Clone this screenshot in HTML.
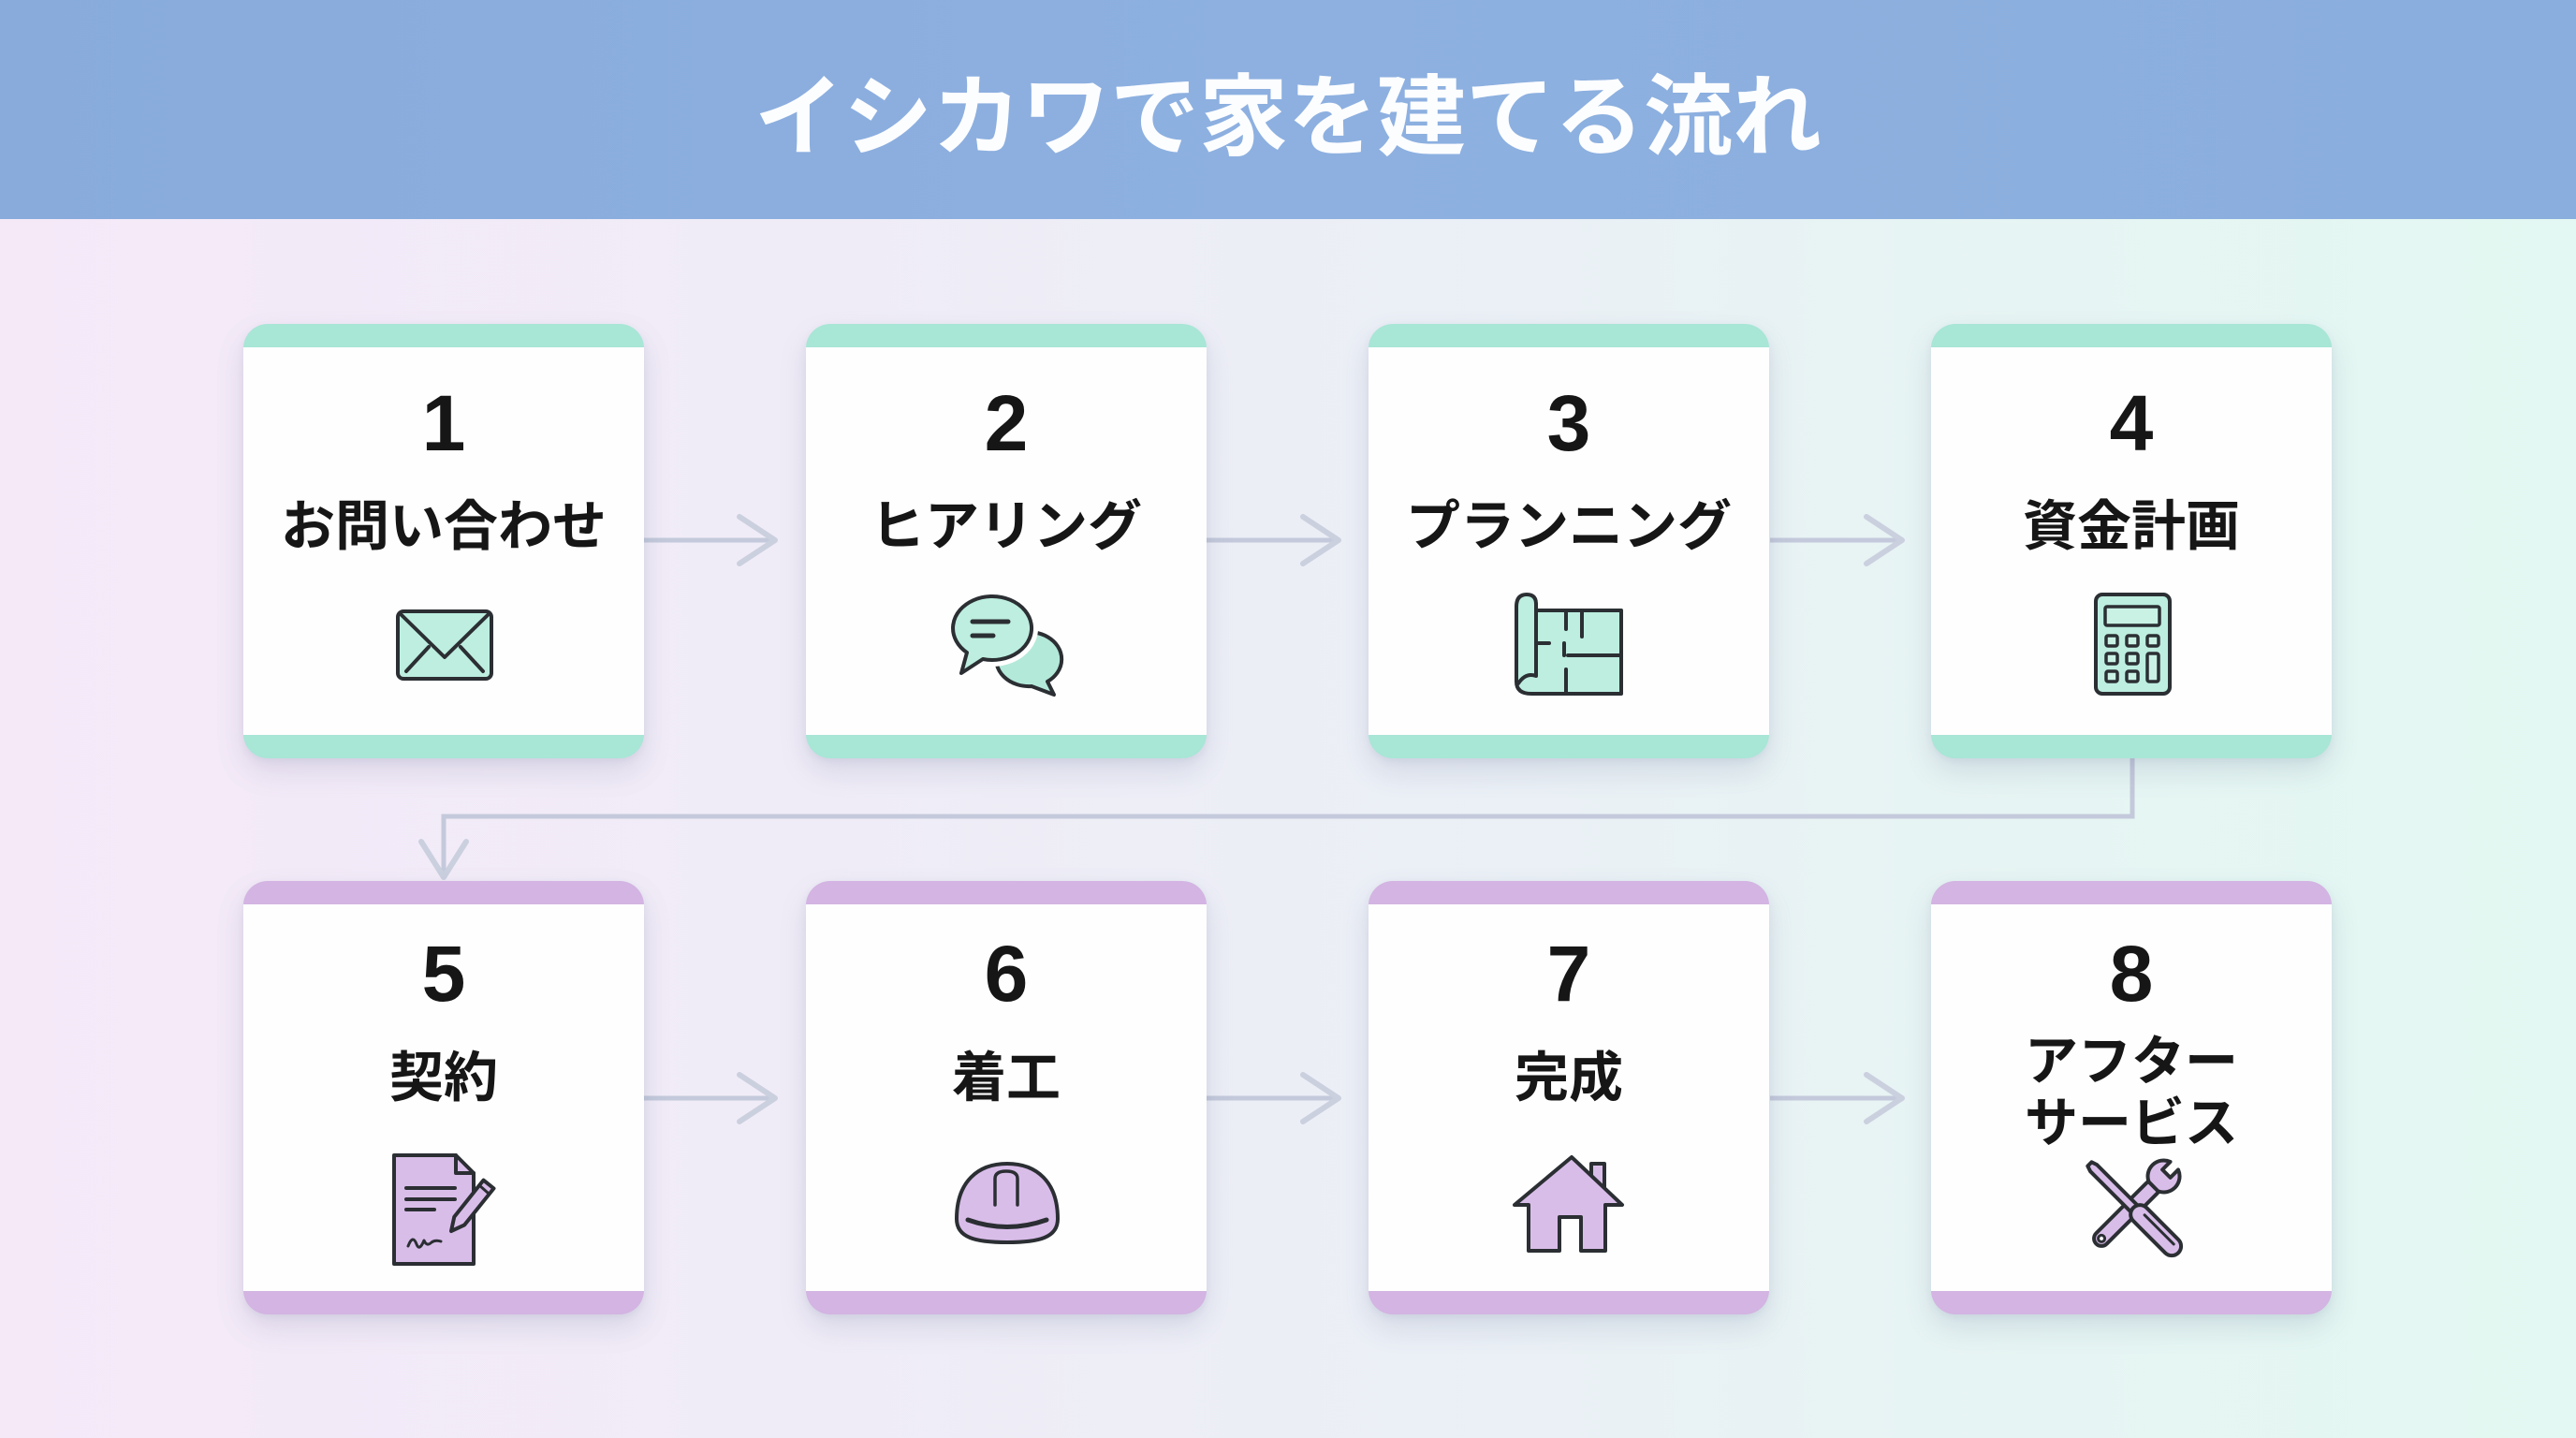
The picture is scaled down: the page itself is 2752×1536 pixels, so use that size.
<!DOCTYPE html>
<html lang="ja">
<head>
<meta charset="utf-8">
<style>
  html,body{margin:0;padding:0;}
  body{width:2752px;height:1536px;position:relative;overflow:hidden;
    background:linear-gradient(90deg,#f5e9f8 0%,#f0ecf7 30%,#ebeff6 55%,#e6f5f3 80%,#e3f8f2 100%);
    font-family:"Liberation Sans","Noto Sans CJK JP",sans-serif;}
  .header{position:absolute;left:0;top:0;width:2752px;height:234px;
    background:linear-gradient(90deg,#88abdc 0%,#8db0e0 50%,#8aaedd 100%);}
  .title{position:absolute;left:0;top:79px;width:2752px;text-align:center;
    font-size:95px;line-height:95px;font-weight:700;color:#fcfdff;letter-spacing:0px;white-space:nowrap;}
  .card{position:absolute;width:428px;border-radius:26px;overflow:hidden;
    box-shadow:0 14px 30px rgba(90,100,140,0.16),0 3px 8px rgba(90,100,140,0.08);}
  .mint{background:#a8e6d6;}
  .purple{background:#d3b4e2;}
  .card .body{position:absolute;left:0;right:0;top:25px;bottom:25px;background:#fefefe;}
  .num{position:absolute;width:428px;text-align:center;font-size:84px;line-height:84px;font-weight:700;color:#161616;}
  .lab{position:absolute;width:428px;text-align:center;font-size:58px;line-height:58px;font-weight:700;color:#161616;white-space:nowrap;}
  svg{position:absolute;left:0;top:0;}
</style>
</head>
<body>
<div class="header"></div>
<div class="title">イシカワで家を建てる流れ</div>

<!-- connectors -->
<svg width="2752" height="1536" viewBox="0 0 2752 1536">
  <g stroke="#c4cadb" stroke-width="5" fill="none" stroke-linecap="butt">
    <line x1="687" y1="577" x2="826" y2="577"/>
    <line x1="1289" y1="577" x2="1428" y2="577"/>
    <line x1="1891" y1="577" x2="2030" y2="577"/>
    <line x1="687" y1="1173" x2="826" y2="1173"/>
    <line x1="1289" y1="1173" x2="1428" y2="1173"/>
    <line x1="1891" y1="1173" x2="2030" y2="1173"/>
    <polyline points="2278,808 2278,872 474,872 474,935"/>
  </g>
  <g stroke="#cbd0df" stroke-width="6" fill="none" stroke-linecap="round" stroke-linejoin="round">
    <polyline points="790,552 828,577 790,602"/>
    <polyline points="1392,552 1430,577 1392,602"/>
    <polyline points="1994,552 2032,577 1994,602"/>
    <polyline points="790,1148 828,1173 790,1198"/>
    <polyline points="1392,1148 1430,1173 1392,1198"/>
    <polyline points="1994,1148 2032,1173 1994,1198"/>
    <polyline points="450,899 474,937 498,899"/>
  </g>
</svg>

<!-- row 1 cards -->
<div class="card mint" style="left:260px;top:346px;height:464px"><div class="body"></div></div>
<div class="card mint" style="left:861px;top:346px;height:464px"><div class="body"></div></div>
<div class="card mint" style="left:1462px;top:346px;height:464px"><div class="body"></div></div>
<div class="card mint" style="left:2063px;top:346px;height:464px"><div class="body"></div></div>

<!-- row 2 cards -->
<div class="card purple" style="left:260px;top:941px;height:463px"><div class="body"></div></div>
<div class="card purple" style="left:861px;top:941px;height:463px"><div class="body"></div></div>
<div class="card purple" style="left:1462px;top:941px;height:463px"><div class="body"></div></div>
<div class="card purple" style="left:2063px;top:941px;height:463px"><div class="body"></div></div>

<!-- numbers -->
<div class="num" style="left:260px;top:410px">1</div>
<div class="num" style="left:861px;top:410px">2</div>
<div class="num" style="left:1462px;top:410px">3</div>
<div class="num" style="left:2063px;top:410px">4</div>
<div class="num" style="left:260px;top:998px">5</div>
<div class="num" style="left:861px;top:998px">6</div>
<div class="num" style="left:1462px;top:998px">7</div>
<div class="num" style="left:2063px;top:998px">8</div>

<!-- labels -->
<div class="lab" style="left:260px;top:534px">お問い合わせ</div>
<div class="lab" style="left:861px;top:534px">ヒアリング</div>
<div class="lab" style="left:1462px;top:534px">プランニング</div>
<div class="lab" style="left:2063px;top:534px">資金計画</div>
<div class="lab" style="left:260px;top:1123px">契約</div>
<div class="lab" style="left:861px;top:1123px">着工</div>
<div class="lab" style="left:1462px;top:1123px">完成</div>
<div class="lab" style="left:2063px;top:1101px;font-size:57px;line-height:66px">アフター<br>サービス</div>

<!-- icons -->
<svg width="2752" height="1536" viewBox="0 0 2752 1536">
  <g stroke="#2b2f33" stroke-width="4" stroke-linejoin="round" stroke-linecap="round">
    <!-- envelope -->
    <rect x="425" y="653" width="100" height="72" rx="6" fill="#bdeedf"/>
    <polyline points="428,656 475,702 522,656" fill="none"/>
    <line x1="434" y1="717" x2="458" y2="691"/>
    <line x1="516" y1="717" x2="492" y2="691"/>

    <!-- chat bubbles -->
    <path d="M1102,733 L1126,742 L1119,728 A35,29 0 1 0 1102,733 Z" fill="#b3e9d9"/>
    <path d="M1033,697 L1027,719 L1050,704 A42,34 0 1 0 1033,697 Z" fill="none" stroke="#fefefe" stroke-width="14"/>
    <path d="M1033,697 L1027,719 L1050,704 A42,34 0 1 0 1033,697 Z" fill="#bdeedf"/>
    <line x1="1039" y1="664" x2="1077" y2="664" stroke-width="5"/>
    <line x1="1039" y1="679" x2="1061" y2="679" stroke-width="5"/>

    <!-- floor plan -->
    <path d="M1620,648 Q1620,635 1631,635 Q1641,635 1641,645 V652 H1732 V741 H1636 Q1620,741 1620,728 Z" fill="#bdeedf"/>
    <path d="M1641,645 V722 Q1630,718 1622,730" fill="none"/>
    <line x1="1673" y1="652" x2="1673" y2="672"/>
    <line x1="1690" y1="652" x2="1690" y2="680"/>
    <line x1="1641" y1="687" x2="1655" y2="687"/>
    <line x1="1671" y1="687" x2="1671" y2="700"/>
    <line x1="1675" y1="700" x2="1732" y2="700"/>
    <line x1="1673" y1="715" x2="1673" y2="741"/>

    <!-- calculator -->
    <rect x="2239" y="635" width="79" height="106" rx="7" fill="#bdeedf"/>
    <rect x="2249" y="648" width="58" height="20" rx="2" fill="#c9f2e5" stroke-width="3.5"/>
    <g stroke-width="3.5" fill="#c9f2e5">
      <rect x="2250" y="679" width="12" height="11" rx="2"/>
      <rect x="2272" y="679" width="12" height="11" rx="2"/>
      <rect x="2294" y="679" width="12" height="11" rx="2"/>
      <rect x="2250" y="698" width="12" height="11" rx="2"/>
      <rect x="2272" y="698" width="12" height="11" rx="2"/>
      <rect x="2294" y="698" width="12" height="30" rx="2"/>
      <rect x="2250" y="717" width="12" height="11" rx="2"/>
      <rect x="2272" y="717" width="12" height="11" rx="2"/>
    </g>

    <!-- document with pencil -->
    <path d="M421,1234 H487 L506,1253 V1350 H421 Z" fill="#d9bde9"/>
    <polyline points="487,1234 487,1253 506,1253" fill="none"/>
    <line x1="434" y1="1269" x2="486" y2="1269"/>
    <line x1="434" y1="1281" x2="486" y2="1281"/>
    <line x1="434" y1="1292" x2="464" y2="1292"/>
    <path d="M436,1331 q5,-13 9,-2 q3,8 8,-4 q3,7 8,2 q4,-3 10,-1" fill="none" stroke-width="3"/>
    <polygon points="516.5,1260.6 527.5,1269.4 496.2,1308.4 482,1315 485.3,1299.7" fill="#d9bde9"/>
    <line x1="512" y1="1266" x2="521" y2="1274" stroke-width="3"/>

    <!-- helmet -->
    <path d="M1022,1302 C1022,1262 1045,1243 1076,1243 C1107,1243 1130,1262 1130,1302 C1130,1322 1110,1327 1076,1327 C1042,1327 1022,1322 1022,1302 Z" fill="#d9bde9"/>
    <path d="M1034,1303 Q1076,1318 1118,1303" fill="none" stroke-width="5"/>
    <path d="M1063,1287 V1259 Q1063,1251 1075,1251 Q1087,1251 1087,1259 V1287" fill="none" stroke-width="3.5"/>

    <!-- house -->
    <polygon points="1700,1258 1700,1243 1714,1243 1714,1272" fill="#d9bde9"/>
    <polygon points="1679,1236 1733,1287 1715,1287 1715,1336 1689,1336 1689,1300 1666,1300 1666,1336 1633,1336 1633,1287 1618,1287" fill="#d9bde9"/>

    <!-- wrench -->
    <g transform="translate(2238,1330) rotate(-45)">
      <path d="M10,-10 A10,10 0 0 0 10,10 H88.5 V7 A17,17 0 0 0 119.9,6 H108 V-6 H119.9 A17,17 0 0 0 88.5,-7 V-10" fill="none" stroke="none"/>
      <rect x="2" y="-8" width="92" height="16" rx="8" fill="#d9bde9"/>
      <path d="M88.5,-7 A17,17 0 0 1 119.9,-6 H108 V6 H119.9 A17,17 0 0 1 88.5,7 Z" fill="#d9bde9"/>
      <circle cx="10" cy="0" r="3.5" fill="#fefefe" stroke-width="3"/>
    </g>
    <!-- screwdriver -->
    <g transform="translate(2231,1242) rotate(45)">
      <path d="M2,-3 L8,-5 H72 V5 H8 L2,3 Z" fill="#d9bde9"/>
      <rect x="68" y="-10" width="68" height="20" rx="10" fill="#d9bde9"/>
      <line x1="82" y1="-3" x2="126" y2="-3" stroke-width="3"/>
    </g>
  </g>
</svg>
</body>
</html>
